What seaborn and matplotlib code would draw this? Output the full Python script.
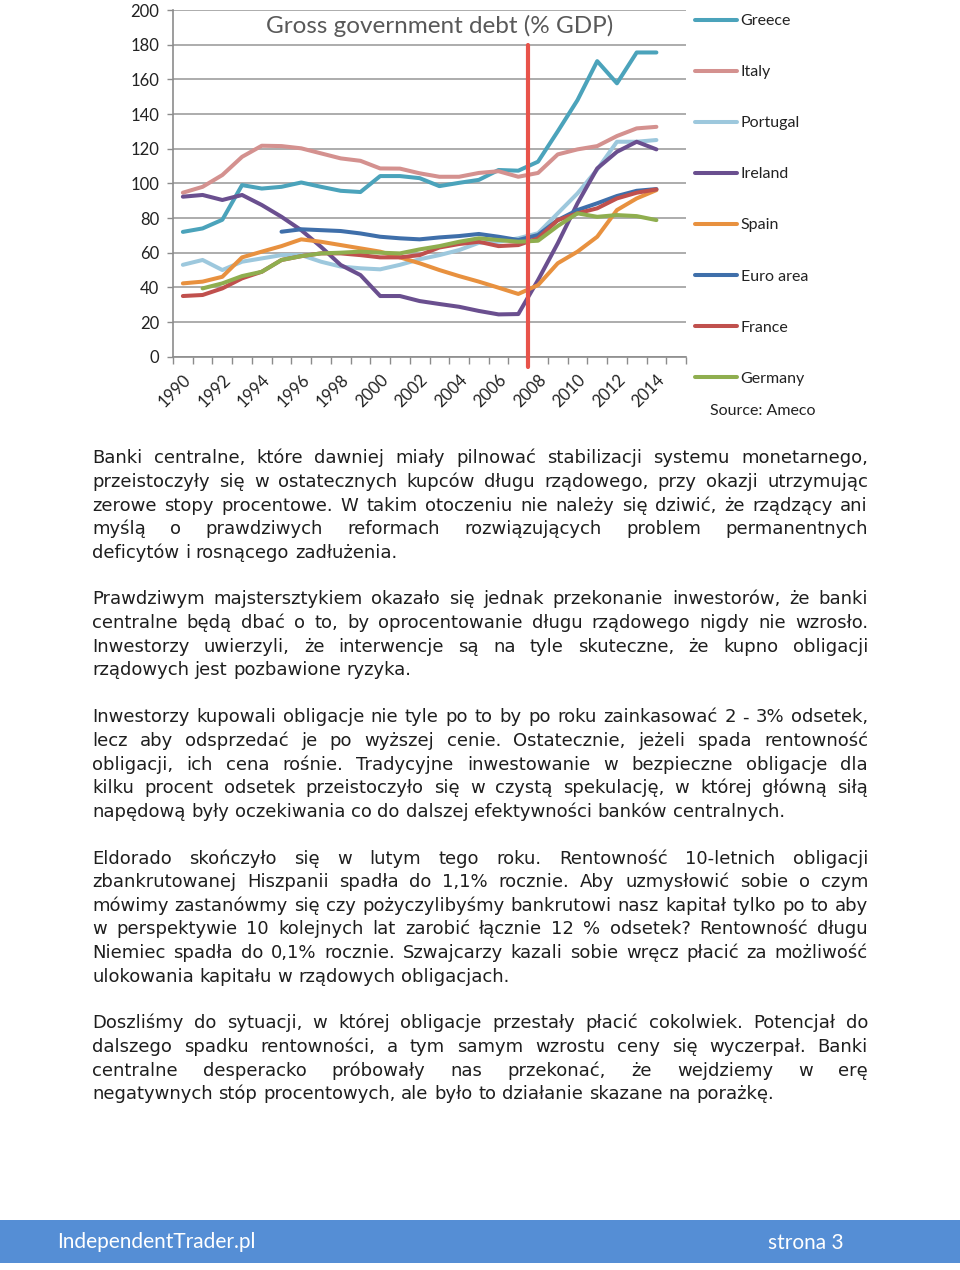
import numpy as np
import pandas as pd
import seaborn as sns
import matplotlib.pyplot as plt
from matplotlib.patches import Rectangle
from matplotlib.ticker import MultipleLocator

years = list(range(1990, 2016))
nan = np.nan

greece = [72, 74, 79, 99, 97, 98, 100.5, 98, 95.7, 95, 104.2, 104.2, 103, 98.4, 100.3, 102, 107.7, 107.3,
          112.5, 130, 148, 170.5, 157.7, 175.5, 175.5, nan]
italy = [94.6, 98, 104.8, 115.3, 121.7, 121.5, 120.2, 117.3, 114.4, 113, 108.6, 108.5, 105.8, 103.8, 103.8,
         106, 107, 103.8, 106, 116.7, 119.6, 121.5, 127.3, 131.7, 132.6, nan]
portugal = [53, 55.8, 50, 54.8, 56.7, 58.6, 58.6, 54.8, 52, 51, 50.4, 53, 56.2, 58.6, 61.5, 65.7, 66.3, 68.3,
            71.2, 82.7, 94.2, 108, 124, 124, 125, nan]
ireland = [92.3, 93.3, 90.4, 93.3, 87.5, 80.7, 73, 63.4, 52.9, 47.1, 35, 35, 32.1, 30.4, 28.8, 26.4, 24.4,
           24.6, 44.2, 65.4, 88.5, 108.6, 118.2, 124, 119.6, nan]
spain = [42.3, 43.3, 46.1, 57.3, 60.6, 63.8, 67.7, 66.3, 64.4, 62.5, 60.6, 57.3, 53.9, 50, 46.5, 43.3, 39.8,
         36.2, 41.3, 53.9, 60.6, 69.2, 84.6, 91.3, 96.1, nan]
euro_area = [nan, nan, nan, nan, nan, 72.1, 73.5, 73, 72.5, 71.1, 69.2, 68.3, 67.7, 68.8, 69.6, 70.8, 69.2,
             67.3, 70.2, 78.8, 84.6, 88.5, 92.7, 95.7, 96.7, nan]
france = [35, 35.6, 39.4, 45.2, 49, 55.8, 58, 59.6, 59.6, 58.6, 57.3, 57.3, 58.6, 63, 65, 66.3, 63.8, 64.4,
          68.3, 78.8, 82.7, 85.6, 91.3, 94.6, 96.5, nan]
germany = [nan, 39.4, 42.3, 46.5, 49, 55.8, 58, 59.6, 60, 60.6, 60, 59.6, 61.9, 63.8, 66.3, 68.3, 67.3, 66.3,
           66.9, 75.4, 82.7, 80.7, 81.7, 81.1, 78.8, nan]

countries = ["Greece", "Italy", "Portugal", "Ireland", "Spain", "Euro area", "France", "Germany"]
series = [greece, italy, portugal, ireland, spain, euro_area, france, germany]
colors = ["#4BA3BB", "#D4918F", "#9DC8DD", "#6A4F8F", "#E8913F", "#3F6FAA", "#C0504D", "#8FAE4F"]
crisis_year = 2007.5

paragraphs = [
    ["Banki centralne, które dawniej miały pilnować stabilizacji systemu monetarnego,",
     "przeistoczyły się w ostatecznych kupców długu rządowego, przy okazji utrzymując",
     "zerowe stopy procentowe. W takim otoczeniu nie należy się dziwić, że rządzący ani",
     "myślą o prawdziwych reformach rozwiązujących problem permanentnych",
     "deficytów i rosnącego zadłużenia."],
    ["Prawdziwym majstersztykiem okazało się jednak przekonanie inwestorów, że banki",
     "centralne będą dbać o to, by oprocentowanie długu rządowego nigdy nie wzrosło.",
     "Inwestorzy uwierzyli, że interwencje są na tyle skuteczne, że kupno obligacji",
     "rządowych jest pozbawione ryzyka."],
    ["Inwestorzy kupowali obligacje nie tyle po to by po roku zainkasować 2 - 3% odsetek,",
     "lecz aby odsprzedać je po wyższej cenie. Ostatecznie, jeżeli spada rentowność",
     "obligacji, ich cena rośnie. Tradycyjne inwestowanie w bezpieczne obligacje dla",
     "kilku procent odsetek przeistoczyło się w czystą spekulację, w której główną siłą",
     "napędową były oczekiwania co do dalszej efektywności banków centralnych."],
    ["Eldorado skończyło się w lutym tego roku. Rentowność 10-letnich obligacji",
     "zbankrutowanej Hiszpanii spadła do 1,1% rocznie. Aby uzmysłowić sobie o czym",
     "mówimy zastanówmy się czy pożyczylibyśmy bankrutowi nasz kapitał tylko po to aby",
     "w perspektywie 10 kolejnych lat zarobić łącznie 12 % odsetek? Rentowność długu",
     "Niemiec spadła do 0,1% rocznie. Szwajcarzy kazali sobie wręcz płacić za możliwość",
     "ulokowania kapitału w rządowych obligacjach."],
    ["Doszliśmy do sytuacji, w której obligacje przestały płacić cokolwiek. Potencjał do",
     "dalszego spadku rentowności, a tym samym wzrostu ceny się wyczerpał. Banki",
     "centralne desperacko próbowały nas przekonać, że wejdziemy w erę",
     "negatywnych stóp procentowych, ale było to działanie skazane na porażkę."],
]
paragraph_tops = [457, 598, 716, 857, 1022]

rows = []
for name, vals in zip(countries, series):
    for y, v in zip(years, vals):
        rows.append({"year": y, "debt": v, "country": name})
df = pd.DataFrame(rows)

sns.set_style("white")
plt.rcParams['font.family'] = ['Lato', 'DejaVu Sans']

W, H = 960, 1270
fig = plt.figure(figsize=(W / 100, H / 100), dpi=100)
ax = fig.add_axes([173 / W, 1 - 356.7 / H, 513 / W, 346.7 / H])

sns.lineplot(data=df, x="year", y="debt", hue="country", hue_order=countries,
             palette=dict(zip(countries, colors)), linewidth=2.9, ax=ax)

ax.set_xlim(1989.5, 2015.5)
ax.set_ylim(0, 200)
ax.yaxis.set_major_locator(MultipleLocator(20))
ax.set_xticks(years[::2])
ax.set_xticks([y - 0.5 for y in years] + [2015.5], minor=True)
ax.tick_params(axis='x', which='major', length=0, labelsize=12, labelcolor='#222222', pad=11)
ax.tick_params(axis='x', which='minor', length=5, width=1, color='#8c8c8c', direction='out', bottom=True)
ax.tick_params(axis='y', length=4, width=1, color='#8c8c8c', labelsize=12, labelcolor='#222222',
               left=True, pad=6)
plt.setp(ax.get_xticklabels(), rotation=45, ha='right', rotation_mode='anchor')
ax.grid(axis='y', color='#a6a6a6', linewidth=1.3)
ax.set_axisbelow(True)
for s in ['top', 'right']:
    ax.spines[s].set_visible(False)
for s in ['left', 'bottom']:
    ax.spines[s].set_color('#8c8c8c')
    ax.spines[s].set_linewidth(1.2)
ax.set_xlabel('')
ax.set_ylabel('')

ax.axvline(crisis_year, ymin=-0.03, ymax=0.9, color='#E8534A', linewidth=3, clip_on=False, zorder=5)

ax.text(0.52, 0.955, "Gross government debt (% GDP)", transform=ax.transAxes, ha='center', va='center',
        fontsize=17.5, color='#595959')

sns.move_legend(ax, 'upper left', bbox_to_anchor=((695 - 173) / 513, (356.7 - 14) / 346.7),
                title=None, frameon=False, fontsize=11.5, labelspacing=2.31, handlelength=2.6,
                handletextpad=0.25, borderpad=0, borderaxespad=0)
for t in ax.get_legend().get_texts():
    t.set_color('#222222')

fig.text(710 / W, 1 - 411 / H, "Source: Ameco", fontsize=11.5, color='#222222', va='center')

# justified body text
renderer = fig.canvas.get_renderer()
x_left, x_right = 92, 868
body_kw = dict(fontsize=13.0, color='#1e1e1e', family='DejaVu Sans', va='baseline')


def text_width(s):
    t = fig.text(0, 0, s, **body_kw)
    w = t.get_window_extent(renderer).width
    t.remove()
    return w


space_w = text_width("a a") - text_width("aa")
line_step = 23.6
for top, para in zip(paragraph_tops, paragraphs):
    for i, line in enumerate(para):
        base = top + i * line_step + 6.5
        words = line.split(' ')
        widths = [text_width(w) for w in words]
        if i == len(para) - 1:
            gap = space_w
        else:
            gap = (x_right - x_left - sum(widths)) / (len(words) - 1)
        x = x_left
        for w, wd in zip(words, widths):
            fig.text(x / W, 1 - base / H, w, **body_kw)
            x += wd + gap

# footer bar
fig.patches.append(Rectangle((0, 1 - 1263 / H), 1, 43 / H, transform=fig.transFigure,
                             facecolor='#558ED5', edgecolor='none'))
fig.text(57 / W, 1 - 1242 / H, "IndependentTrader.pl", color='white', fontsize=15, va='center')
fig.text(768 / W, 1 - 1243 / H, "strona 3", color='white', fontsize=15, va='center')

fig.savefig('out.png', dpi=100, facecolor='white')
